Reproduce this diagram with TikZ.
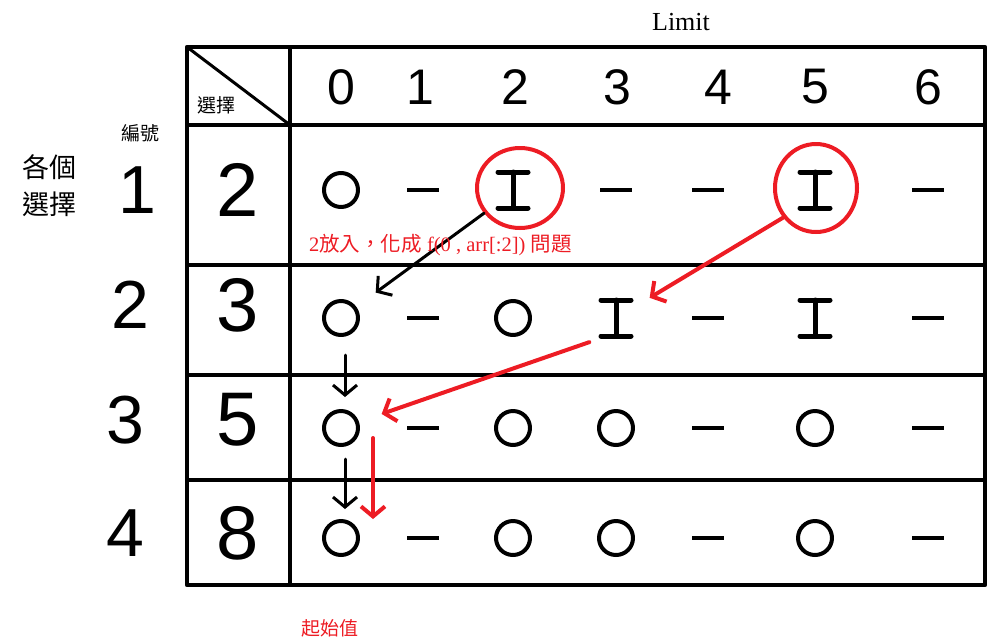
\documentclass[tikz,border=0pt]{standalone}
\usepackage{fontspec}
\setmainfont{Liberation Serif}
\setsansfont{Liberation Sans}
\newfontfamily\cjk{Noto Sans CJK TC}
\usetikzlibrary{arrows.meta,shapes.geometric}
\definecolor{paintred}{RGB}{237,28,36}
\begin{document}
\begin{tikzpicture}[x=1pt,y=-1pt,line cap=round,line join=round,>={Straight Barb[length=10pt,width=24pt]},
  grid/.style={line width=4.5pt,line cap=rect},
  mko/.style={circle,draw,line width=4pt,minimum size=34pt,inner sep=0pt},
  mkn/.style={fill,minimum width=32pt,minimum height=4pt,inner sep=0pt},
  mki/.style={minimum width=36pt,minimum height=42pt,inner sep=0pt,path picture={
    \draw[line width=5pt] ([shift={(3pt,-3pt)}]path picture bounding box.north west)--([shift={(-3pt,-3pt)}]path picture bounding box.north east);
    \draw[line width=5pt] ([yshift=-3pt]path picture bounding box.north)--([yshift=3pt]path picture bounding box.south);
    \draw[line width=5pt] ([shift={(3pt,3pt)}]path picture bounding box.south west)--([shift={(-3pt,3pt)}]path picture bounding box.south east);}},
  ring/.style={ellipse,draw=paintred,line width=4pt,inner sep=0pt},
  hand/.style={font=\sffamily\fontsize{#1}{#1}\selectfont,inner sep=0pt}]
\useasboundingbox (0,0) rectangle (988,641);
% table
\draw[grid] (187,47) rectangle (985,585);
\draw[grid] (290,47)--(290,585);
\foreach \y in {125,265,375,480} \draw[grid] (187,\y)--(985,\y);
\draw[line width=3pt] (187,47)--(290,125);
\node[font=\cjk\fontsize{19}{19}\selectfont,inner sep=0pt] (sel) at (216,105) {選擇};
\node[font=\fontsize{26}{26}\selectfont,inner sep=0pt] (limit) at (681,22) {Limit};
% header
\foreach \c/\x in {0/341,1/420,2/515,3/617,4/718,5/815,6/928}
  \node[hand=50] (h\c) at (\x,87) {\c};
% left labels
\node[font=\cjk\fontsize{19}{19}\selectfont,inner sep=0pt] (num) at (140,133) {編號};
\node[font=\cjk\fontsize{27}{37}\selectfont,align=center,inner sep=0pt] (each) at (50,186) {各個\\選擇};
\foreach \r/\x/\y/\v in {1/137/190/2,2/130/305/3,3/125/420/5,4/125/533/8}{
  \node[hand=68] (n\r) at (\x,\y) {\r};
  \node[hand=76] (v\r) at (238,\y) {\v};}
% cells
\foreach \r/\y/\row in {1/190/{o,n,i,n,n,i,n},2/318/{o,n,o,i,n,i,n},3/428/{o,n,o,o,n,o,n},4/538/{o,n,o,o,n,o,n}}
  \foreach \m [count=\c from 0] in \row {
    \pgfmathsetmacro{\x}{{341,423,513,616,708,815,928}[\c]}
    \node[mk\m] (m\r\c) at (\x,\y) {};}
\node[ring,minimum width=86pt,minimum height=80pt] (e12) at (520,188) {};
\node[ring,minimum width=82pt,minimum height=88pt] (e15) at (816,188) {};
% arrows
\draw[->,line width=3pt,shorten >=24pt] (e12.215)--(m20);
\draw[->,line width=3pt,shorten <=18pt,shorten >=12pt] ([xshift=4pt]m20.south)--([xshift=4pt]m30.north);
\draw[->,line width=3pt,shorten <=12pt,shorten >=10pt] ([xshift=4pt]m30.south)--([xshift=4pt]m40.north);
\draw[->,paintred,line width=4pt,shorten >=18pt] (e15.222)--(m23);
\draw[->,paintred,line width=4pt,shorten <=9pt,shorten >=24pt] (m23.south west)--(m30);
\draw[->,paintred,line width=4pt] ([xshift=32pt,yshift=9pt]m30.south)--([xshift=32pt]m40.north);
% notes
\node[anchor=west,text=paintred,font=\fontsize{20.5}{20.5}\selectfont,inner sep=0pt] (note) at (309,245)
  {2{\cjk 放入，化成} f(0 , arr[:2]) {\cjk 問題}};
\node[text=paintred,font=\cjk\fontsize{19}{19}\selectfont,inner sep=0pt] (start) at (330,628) {起始值};
\end{tikzpicture}
\end{document}
